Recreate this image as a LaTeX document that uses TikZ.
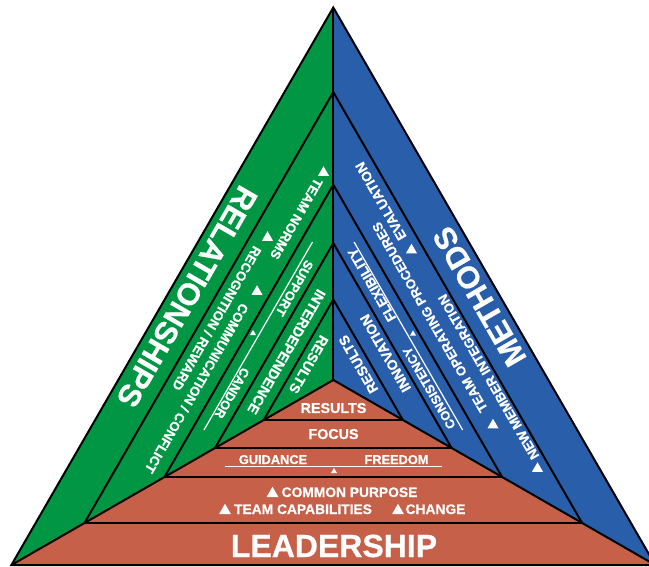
\documentclass[tikz,border=0pt]{standalone}
\usepackage{fontspec}
\setmainfont{Liberation Sans}[BoldFeatures={FakeBold=0.6}]
\definecolor{grn}{HTML}{009644}
\definecolor{blu}{HTML}{285EAA}
\definecolor{org}{HTML}{C76048}
\newcommand\fsz[1]{\fontsize{#1}{#1}\selectfont\bfseries}
\newcommand\Lpos[2]{({333.3-0.5*((#2)-0.866*(#1))},{(#1)+0.866*((#2)-0.866*(#1))})}
\newcommand\Rpos[2]{({333.3+0.5*((#2)-0.866*(#1))},{(#1)+0.866*((#2)-0.866*(#1))})}
\newcommand\wtri[3]{\fill[white] ({#1-0.5*#3},{#2+0.433*#3}) -- ({#1+0.5*#3},{#2+0.433*#3}) -- ({#1},{#2-0.433*#3}) -- cycle;}
\begin{document}
\begin{tikzpicture}[x=1pt,y=-1pt,
  edge/.style={black, line width=2pt, line join=miter},
  txt/.style={text=white, inner sep=0pt, text depth=0pt},
  lt/.style={txt, rotate=-120},
  rt/.style={txt, rotate=120},
  beam/.style={white, line width=1.2pt}]
\useasboundingbox (0,0) rectangle (649,567);
\clip (0,0) rectangle (649,567);
% key points
\coordinate (A0) at (333.3,7.5);
\coordinate (A1) at (333.3,92.1);
\coordinate (A2) at (333.3,184.7);
\coordinate (A3) at (333.3,243.1);
\coordinate (A4) at (333.3,299.5);
\coordinate (O) at (333.3,380);
\coordinate (L4) at (263.7,420);
\coordinate (R4) at (402.9,420);
\coordinate (L3) at (215.0,448);
\coordinate (R3) at (451.6,448);
\coordinate (L2) at (164.5,477);
\coordinate (R2) at (502.1,477);
\coordinate (L1) at (84.5,523);
\coordinate (R1) at (582.1,523);
\coordinate (L0) at (11.4,565);
\coordinate (R0) at (655.2,565);
% fills
\fill[grn] (A0) -- (L0) -- (O) -- cycle;
\fill[blu] (A0) -- (R0) -- (O) -- cycle;
\fill[org] (O) -- (L0) -- (R0) -- cycle;
% lines
\draw[edge] (L4) -- (R4);
\draw[edge] (L3) -- (R3);
\draw[edge] (L2) -- (R2);
\draw[edge] (L1) -- (R1);
\draw[edge] (L1) -- (A1) -- (R1);
\draw[edge] (L2) -- (A2) -- (R2);
\draw[edge] (L3) -- (A3) -- (R3);
\draw[edge] (L4) -- (A4) -- (R4);
\draw[edge] (A0) -- (O);
\draw[edge] (L0) -- (O) -- (R0);
\draw[edge] (L0) -- (A0) -- (R0) -- cycle;
% big labels
\node[lt, font=\fsz{31}] (rel) at \Lpos{44}{330} {RELATIONSHIPS};
\node[rt, font=\fsz{31}] (met) at \Rpos{44}{330} {METHODS};
\node[txt, anchor=base, font=\fsz{32}] (lead) at (334,557) {LEADERSHIP};
% green side
\node[lt, font=\fsz{13.3}] (tn) at \Lpos{155}{208} {TEAM NORMS};
\node[lt, font=\fsz{13.3}] (rr) at \Lpos{117}{334} {RECOGNITION / REWARD};
\node[lt, font=\fsz{13.3}] (cc) at \Lpos{152}{404.5} {COMMUNICATION / CONFLICT};
\node[lt, font=\fsz{12.8}] (sup) at \Lpos{221}{269} {SUPPORT};
\node[lt, font=\fsz{12.8}] (can) at \Lpos{218}{391} {CANDOR};
\node[lt, font=\fsz{14.2}] (int) at \Lpos{271}{328} {INTERDEPENDENCE};
\node[lt, font=\fsz{14}] (gres) at \Lpos{322}{328} {RESULTS};
\draw[beam] \Lpos{206}{220} -- \Lpos{206}{437};
% blue side
\node[rt, font=\fsz{13.8}] (eva) at \Rpos{119}{198} {EVALUATION};
\node[rt, font=\fsz{13.3}] (top) at \Rpos{150}{323} {TEAM OPERATING PROCEDURES};
\node[rt, font=\fsz{13.3}] (nmi) at \Rpos{108}{404} {NEW MEMBER INTEGRATION};
\node[rt, font=\fsz{13.7}] (flx) at \Rpos{218}{266} {FLEXIBILITY};
\node[rt, font=\fsz{12.8}] (con) at \Rpos{222}{384} {CONSISTENCY};
\node[rt, font=\fsz{14.2}] (inn) at \Rpos{263}{332} {INNOVATION};
\node[rt, font=\fsz{14}] (bres) at \Rpos{321}{328} {RESULTS};
\draw[beam] \Rpos{206}{220} -- \Rpos{206}{437};
% orange side
\node[txt, anchor=base, font=\fsz{14.3}] (ores) at (333.5,413) {RESULTS};
\node[txt, anchor=base, font=\fsz{14.3}] (foc) at (333.5,439) {FOCUS};
\node[txt, anchor=base, font=\fsz{12.8}] (gui) at (273,464) {GUIDANCE};
\node[txt, anchor=base, font=\fsz{12.8}] (fre) at (396.5,464) {FREEDOM};
\draw[beam] (225,466.7) -- (442,466.7);
\node[txt, anchor=base, font=\fsz{13.8}] (cp) at (349.5,497) {COMMON PURPOSE};
\node[txt, anchor=base, font=\fsz{13.8}] (tc) at (303,514) {TEAM CAPABILITIES};
\node[txt, anchor=base, font=\fsz{13.8}] (chg) at (435.5,514) {CHANGE};
% triangles
\wtri{323.5}{171}{11}
\wtri{267.5}{236}{11}
\wtri{257}{290}{11}
\wtri{411.5}{248.5}{11}
\wtri{493}{423.5}{11}
\wtri{537.5}{467}{11}
\wtri{272.5}{492}{12}
\wtri{225}{509}{12}
\wtri{398}{509}{12}
\wtri{253}{332.5}{6}
\wtri{413}{333}{6}
\wtri{334}{470.5}{6}
\end{tikzpicture}
\end{document}
